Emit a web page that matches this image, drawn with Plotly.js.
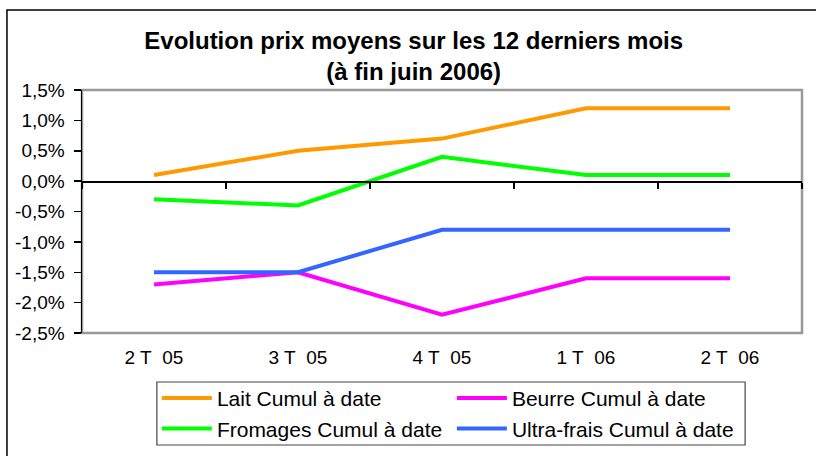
<!DOCTYPE html>
<html>
<head>
<meta charset="utf-8">
<script src="https://cdn.plot.ly/plotly-3.0.1.min.js"></script>
<style>html,body{margin:0;padding:0;background:#fff;}#chart{width:816px;height:456px;}</style>
</head>
<body>
<div id="chart"></div>
<script>
const categories = ["2 T\u00a0\u00a005", "3 T\u00a0\u00a005", "4 T\u00a0\u00a005", "1 T\u00a0\u00a006", "2 T\u00a0\u00a006"];
const lait = [0.1, 0.5, 0.7, 1.2, 1.2];
const beurre = [-1.7, -1.5, -2.2, -1.6, -1.6];
const fromages = [-0.3, -0.4, 0.4, 0.1, 0.1];
const ultraFrais = [-1.5, -1.5, -0.8, -0.8, -0.8];
const yTickVals = [-2.5, -2.0, -1.5, -1.0, -0.5, 0.0, 0.5, 1.0, 1.5];
const yTickText = ["-2,5%", "-2,0%", "-1,5%", "-1,0%", "-0,5%", "0,0%", "0,5%", "1,0%", "1,5%"];

const series = [
  {name: "Lait Cumul à date", y: lait, color: "#FF9900", xaxis: "x"},
  {name: "Beurre Cumul à date", y: beurre, color: "#FF00FF", xaxis: "x"},
  {name: "Fromages Cumul à date", y: fromages, color: "#00FF00", xaxis: "x2"},
  {name: "Ultra-frais Cumul à date", y: ultraFrais, color: "#3366FF", xaxis: "x2"}
];

const traces = series.map(s => ({
  type: "scatter", mode: "lines", name: s.name,
  x: categories, y: s.y, xaxis: s.xaxis, yaxis: "y",
  line: {color: s.color, width: 4},
  hoverinfo: "skip"
}));

const font = "Liberation Sans, Arial, sans-serif";
const layout = {
  width: 816, height: 456,
  margin: {l: 82, r: 14, t: 90, b: 123, autoexpand: false},
  paper_bgcolor: "#fff", plot_bgcolor: "#fff",
  font: {family: font, color: "#000", size: 20},
  title: {
    text: "<b>Evolution prix moyens sur les 12 derniers mois<br>(à fin juin 2006)</b>",
    font: {family: font, size: 24, color: "#000"},
    x: 0.507, xanchor: "center", xref: "container",
    y: 1 - 49/456, yanchor: "top", yref: "container"
  },
  xaxis: {
    type: "category", categoryarray: categories, range: [-0.5, 4.5],
    showgrid: false, zeroline: false, showline: false, ticks: "",
    tickfont: {size: 19}, ticklabelstandoff: 11
  },
  xaxis2: {
    type: "category", categoryarray: categories, range: [-0.5, 4.5],
    overlaying: "x", anchor: "free", position: 0.625,
    showgrid: false, zeroline: false, showline: true, linecolor: "#000", linewidth: 1.5,
    ticks: "outside", tickson: "boundaries", ticklen: 6, tickcolor: "#000", tickwidth: 1.5,
    showticklabels: false
  },
  yaxis: {
    range: [-2.5, 1.5], tickmode: "array", tickvals: yTickVals, ticktext: yTickText,
    showgrid: false, zeroline: false, showline: true, linecolor: "#000", linewidth: 1.5,
    ticks: "outside", ticklen: 7, tickcolor: "#000", tickwidth: 1.5,
    tickfont: {size: 19}, ticklabelstandoff: 5
  },
  showlegend: true,
  legend: {
    orientation: "h", x: 0.104, xanchor: "left", y: -0.185, yanchor: "top",
    borderwidth: 0, bgcolor: "rgba(0,0,0,0)",
    font: {size: 21}, entrywidth: 230, entrywidthmode: "pixels", itemwidth: 50
  },
  shapes: [
    {type: "rect", xref: "paper", yref: "paper", x0: 0, x1: 1, y0: 0, y1: 1,
     line: {color: "#999", width: 2.5}, layer: "below"},
    {type: "rect", xref: "paper", yref: "paper", x0: -0.1042, x1: 1.03, y0: -0.53, y1: 1.329,
     line: {color: "#000", width: 1.5}, fillcolor: "rgba(0,0,0,0)", layer: "below"},
    {type: "rect", xref: "paper", yref: "paper", x0: 0.104, x1: 0.921, y0: -0.461, y1: -0.2016,
     line: {color: "#444", width: 1.2}, fillcolor: "rgba(0,0,0,0)", layer: "above"}
  ]
};

Plotly.newPlot("chart", traces, layout, {displayModeBar: false, staticPlot: true});
</script>
</body>
</html>
